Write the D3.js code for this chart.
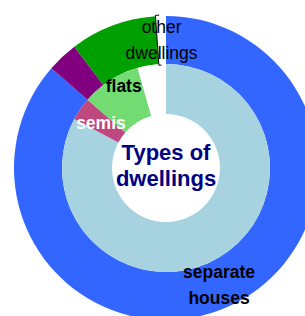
<!DOCTYPE html>
<html>
<head>
<meta charset="utf-8">
<script src="https://cdn.jsdelivr.net/npm/d3@7"></script>
<style>
  body { margin: 0; background: #fff; }
  svg { display: block; font-family: "Liberation Sans", Arial, Helvetica, sans-serif; }
</style>
</head>
<body>
<div id="chart"></div>
<script>
// dwelling types, inner and outer ring shares (%)
var categories = ["separate houses", "semis", "flats", "other dwellings"];
var innerValues = [82.8, 3.6, 9.2, 4.4];
var outerValues = [86.4, 3.3, 9.2, 1.1];
var innerColors = ["#a7d2df", "#c04880", "#72dc72", "#ffffff"];
var outerColors = ["#3366ff", "#800080", "#00a000", "#ffffff"];
// which ring each label sits on
var labelRing = ["outer", "inner", "inner", "outer"];
var labelColors = ["#000", "#fff", "#000", "#000"];
var labelWeights = ["bold", "bold", "bold", "normal"];
var labelLines = [["separate", "houses"], ["semis"], ["flats"], ["other", "dwellings"]];
var titleLines = ["Types of", "dwellings"];

var width = 305;
var height = 316;
var cx = 166, cy = 168;
var rHole = 54, rMid = 104, rOuter = 152;
var lineHeight = 26;

var svg = d3.select("#chart").append("svg")
    .attr("width", width)
    .attr("height", height);

var g = svg.append("g")
    .attr("transform", `translate(${cx}, ${cy})`);

var pie = d3.pie().sort(null).value(function (d) { return d; });

var innerArc = d3.arc().innerRadius(rHole).outerRadius(rMid);
var outerArc = d3.arc().innerRadius(rMid).outerRadius(rOuter);

var innerPie = pie(innerValues);
var outerPie = pie(outerValues);

g.selectAll("path.outer")
    .data(outerPie)
    .enter().append("path")
    .attr("class", "outer")
    .attr("d", outerArc)
    .style("fill", function (d, i) { return outerColors[i]; });

g.selectAll("path.inner")
    .data(innerPie)
    .enter().append("path")
    .attr("class", "inner")
    .attr("d", innerArc)
    .style("fill", function (d, i) { return innerColors[i]; });

// bracket marking the thin "other dwellings" slice of the outer ring
var other = outerPie[3];
var a0 = other.startAngle;
var tick = 0.025;
function polar(r, a) { return [r * Math.sin(a), -r * Math.cos(a)]; }
var p1 = polar(rOuter + 1, a0 + tick), p2 = polar(rOuter + 1, a0),
    p3 = polar(rMid - 1, a0), p4 = polar(rMid - 1, a0 + tick);
g.append("path")
    .attr("d", `M${p1}L${p2}L${p3}L${p4}`)
    .style("fill", "none")
    .style("stroke", "#000")
    .style("stroke-width", 1);

// labels at arc centroids
var nudge = [0, 0, -15.5, 0];
categories.forEach(function (c, i) {
    var d = labelRing[i] === "outer" ? outerPie[i] : innerPie[i];
    var arc = labelRing[i] === "outer" ? outerArc : innerArc;
    var pt = arc.centroid(d);
    var lines = labelLines[i];
    var text = g.append("text")
        .attr("text-anchor", "middle")
        .style("font-size", "17.5px")
        .style("font-weight", labelWeights[i])
        .style("fill", labelColors[i]);
    lines.forEach(function (ln, j) {
        text.append("tspan")
            .attr("x", pt[0])
            .attr("y", pt[1] + nudge[i] - lineHeight * (lines.length - 1) / 2 + j * lineHeight + 6.1)
            .text(ln);
    });
});

var title = g.append("text")
    .attr("text-anchor", "middle")
    .style("font-size", "22px")
    .style("font-weight", "bold")
    .style("fill", "#000080");
titleLines.forEach(function (ln, j) {
    title.append("tspan")
        .attr("x", 0)
        .attr("y", -8 + j * lineHeight)
        .text(ln);
});
</script>
</body>
</html>
